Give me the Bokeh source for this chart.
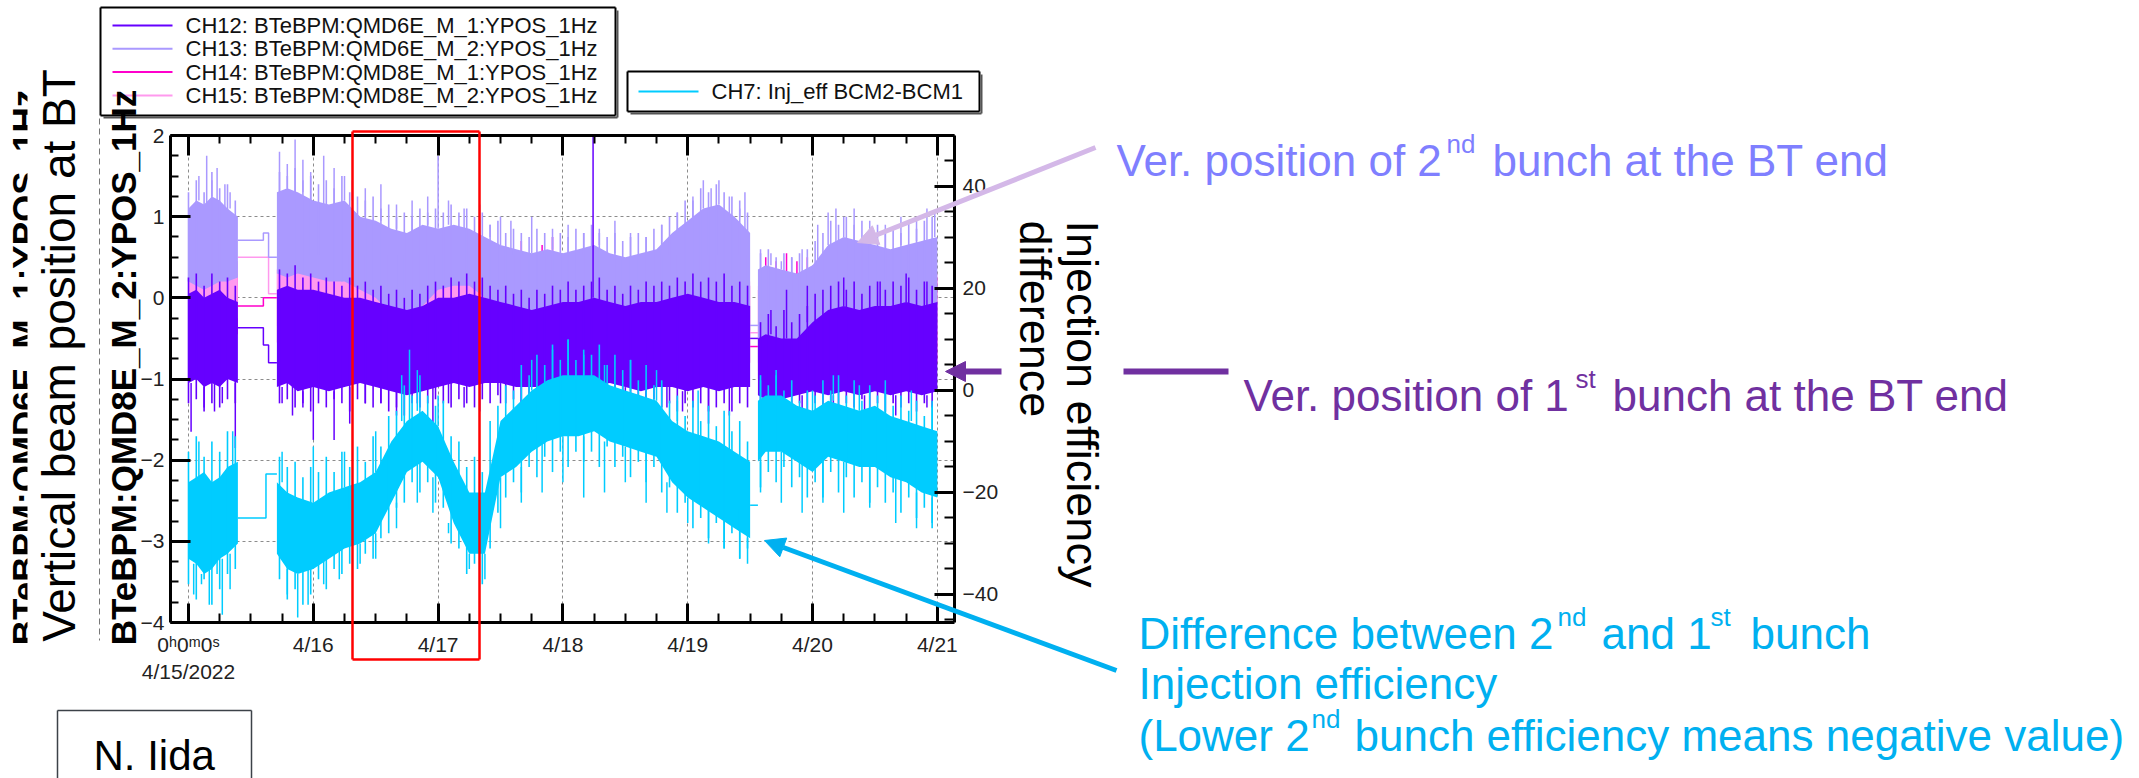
import numpy as np
from bokeh.plotting import figure
from bokeh.models import (Range1d, LinearAxis, SingleIntervalTicker, Grid, Label, Arrow, NormalHead, BoxAnnotation)
from bokeh.embed import file_html
from bokeh.resources import INLINE

# ---------------- data (hours since 2022-04-15 00:00) ----------------
T = [0, 1.5, 3, 4.5, 6, 7.5, 9.5,
     17, 19, 21, 24, 27, 30, 33, 36, 39, 42, 45, 48, 51, 54, 57, 60, 63, 66, 69, 72, 75, 78,
     81, 84, 87, 90, 93, 96, 99, 102, 105, 108,
     109.5, 111, 114, 117, 120, 123, 126, 129, 132, 135, 138, 141, 144]

# CH13 (2nd bunch, QMD6E) core envelope, mm
ch13_hi = [1.1, 1.2, 1.15, 1.25, 1.2, 1.1, 1.0,
           1.3, 1.35, 1.3, 1.2, 1.15, 1.2, 1.0, 0.95, 0.85, 0.8, 0.9, 0.85, 0.9, 0.85, 0.75, 0.65,
           0.6, 0.55, 0.6, 0.55, 0.6, 0.65, 0.55, 0.5, 0.55, 0.6, 0.8, 0.95, 1.1, 1.15, 1.0, 0.8,
           0.35, 0.4, 0.35, 0.3, 0.4, 0.65, 0.75, 0.7, 0.65, 0.6, 0.65, 0.7, 0.75]
ch13_lo = [0.2, 0.15, 0.1, 0.15, 0.2, 0.2, 0.25,
           0.3, 0.25, 0.3, 0.25, 0.2, 0.2, 0.1, 0.0, -0.2, -0.3, -0.1, 0.1, 0.15, 0.15, 0.0, -0.2,
           -0.3, -0.35, -0.3, -0.3, -0.25, -0.2, -0.3, -0.3, -0.25, -0.3, -0.35, -0.3, -0.3, -0.35, -0.35, -0.4,
           -0.8, -0.85, -0.8, -0.75, -0.5, -0.45, -0.4, -0.45, -0.5, -0.5, -0.45, -0.4, -0.4]
# CH12 (1st bunch, QMD6E) core envelope, mm
ch12_hi = [0.05, 0.1, 0.0, 0.05, 0.1, 0.0, -0.05,
           0.1, 0.15, 0.1, 0.1, 0.05, 0.0, 0.0, -0.05, -0.1, -0.15, -0.1, 0.0, 0.0, 0.05, 0.0, -0.05,
           -0.1, -0.15, -0.1, -0.05, -0.05, 0.0, -0.05, -0.1, -0.05, -0.05, 0.0, 0.05, 0.0, -0.05, -0.05, -0.1,
           -0.5, -0.45, -0.5, -0.5, -0.3, -0.15, -0.1, -0.15, -0.1, -0.1, -0.05, -0.1, -0.05]
ch12_lo = [-1.05, -1.0, -1.1, -1.05, -1.1, -1.0, -1.05,
           -1.1, -1.05, -1.15, -1.1, -1.15, -1.1, -1.05, -1.1, -1.15, -1.2, -1.15, -1.1, -1.05, -1.1, -1.05, -1.05,
           -1.1, -1.1, -1.1, -1.05, -1.1, -1.1, -1.05, -1.1, -1.15, -1.1, -1.1, -1.15, -1.1, -1.15, -1.1, -1.1,
           -1.2, -1.25, -1.25, -1.2, -1.15, -1.2, -1.15, -1.2, -1.15, -1.2, -1.15, -1.2, -1.15]
# CH7 injection efficiency difference core envelope, %
ch7_hi = [-18, -17, -16, -18, -17, -15, -14,
          -18, -20, -21, -22, -20, -19, -18, -16, -10, -6, -4, -7, -14, -20, -20, -6,
          -3, 0, 2, 3, 3, 3, 1, 0, -1, -2, -6, -8, -9, -10, -12, -14,
          -2, -1, -1, -3, -4, -2, -3, -4, -3, -5, -6, -7, -8]
ch7_lo = [-33, -34, -36, -35, -33, -32, -30,
          -32, -35, -36, -35, -33, -31, -30, -28, -22, -16, -14, -17, -26, -32, -32, -17,
          -15, -12, -10, -9, -9, -8, -10, -11, -12, -13, -18, -21, -23, -25, -27, -29,
          -14, -12, -12, -14, -16, -13, -14, -15, -15, -17, -18, -20, -21]

# CH14 / CH15 (QMD8E) core envelopes, mm
TP = [0, 4.5, 9.5, 17, 24, 33, 42, 54, 66, 78, 90, 102, 108, 109.5, 120, 132, 144]
ch15_hi = [0.45, 0.5, 0.45, 0.5, 0.45, 0.3, 0.1, 0.3, 0.1, 0.1, 0.15, 0.3, 0.2, 0.15, 0.25, 0.3, 0.3]
ch15_lo = [-0.3, -0.3, -0.25, -0.35, -0.4, -0.5, -0.6, -0.5, -0.6, -0.6, -0.6, -0.6, -0.6, -0.9, -0.7, -0.6, -0.6]
ch14_hi = [0.3, 0.35, 0.3, 0.35, 0.3, 0.2, 0.05, 0.2, 0.05, 0.05, 0.1, 0.2, 0.15, 0.1, 0.2, 0.25, 0.25]
ch14_lo = [-0.5, -0.5, -0.45, -0.55, -0.6, -0.7, -0.8, -0.7, -0.8, -0.8, -0.8, -0.8, -0.8, -1.0, -0.9, -0.8, -0.8]

# fine noise extremes every 1.5 h
TS = [0, 1.5, 3, 4.5, 6, 7.5, 9,
      17.5, 19, 20.5, 22, 23.5, 25, 26.5, 28, 29.5, 31, 32.5, 34, 35.5, 37, 38.5, 40, 41.5, 43, 44.5, 46,
      47.5, 49, 50.5, 52, 53.5, 55, 56.5, 58, 59.5, 61, 62.5, 64, 65.5, 67, 68.5, 70, 71.5, 73, 74.5, 76,
      77.5, 79, 80.5, 82, 83.5, 85, 86.5, 88, 89.5, 91, 92.5, 94, 95.5, 97, 98.5, 100, 101.5, 103, 104.5, 106, 107.5,
      110, 111.5, 113, 114.5, 116, 117.5, 119, 120.5, 122, 123.5, 125, 126.5, 128, 129.5, 131, 132.5, 134,
      135.5, 137, 138.5, 140, 141.5, 143]
ch13_max = [1.3, 1.45, 1.3, 1.55, 1.35, 1.4, 1.2,
            1.55, 1.5, 1.6, 1.45, 1.5, 1.4, 1.45, 1.35, 1.5, 1.3, 1.25, 1.2, 1.25, 1.1, 1.15, 1.0, 1.05, 1.0, 1.1, 1.05,
            1.1, 1.05, 1.15, 1.05, 1.1, 1.0, 1.05, 0.9, 0.95, 0.8, 0.85, 0.8, 0.75, 0.85, 0.8, 0.75, 0.8, 0.75, 0.85, 0.8,
            0.9, 0.8, 0.75, 0.8, 0.7, 0.75, 0.8, 0.75, 0.85, 0.9, 1.0, 1.05, 1.2, 1.2, 1.35, 1.3, 1.4, 1.3, 1.25, 1.2, 1.05,
            0.55, 0.6, 0.5, 0.55, 0.5, 0.55, 0.6, 0.7, 0.8, 0.95, 0.9, 1.0, 0.9, 0.95, 0.85, 0.9, 0.8, 0.85, 0.8, 0.95, 0.85, 0.95, 1.0]
ch12_max = [0.25, 0.3, 0.15, 0.3, 0.2, 0.25, 0.15,
            0.35, 0.3, 0.4, 0.25, 0.3, 0.2, 0.25, 0.2, 0.15, 0.25, 0.15, 0.2, 0.1, 0.15, 0.05, 0.1, 0.0, 0.1, 0.05, 0.15,
            0.2, 0.15, 0.25, 0.2, 0.3, 0.2, 0.25, 0.15, 0.1, 0.15, 0.05, 0.1, 0.0, 0.1, 0.05, 0.15, 0.1, 0.2, 0.1, 0.15,
            0.2, 0.25, 0.1, 0.15, 0.05, 0.15, 0.1, 0.2, 0.15, 0.2, 0.15, 0.25, 0.2, 0.3, 0.2, 0.25, 0.2, 0.3, 0.15, 0.2, 0.15,
            -0.3, -0.2, -0.35, -0.15, -0.3, -0.2, -0.1, 0.05, 0.1, 0.15, 0.2, 0.1, 0.2, 0.05, 0.15, 0.2, 0.1, 0.2, 0.15, 0.25, 0.1, 0.2, 0.15]
ch12_min = [-1.3, -1.25, -1.4, -1.3, -1.35, -1.25, -1.3,
            -1.3, -1.25, -1.35, -1.3, -1.4, -1.3, -1.35, -1.25, -1.3, -1.4, -1.25, -1.3, -1.35, -1.3, -1.4, -1.35, -1.45, -1.3, -1.35, -1.3,
            -1.25, -1.3, -1.35, -1.25, -1.3, -1.35, -1.25, -1.3, -1.2, -1.3, -1.25, -1.35, -1.3, -1.25, -1.35, -1.3, -1.2, -1.3, -1.25, -1.35,
            -1.3, -1.25, -1.35, -1.3, -1.4, -1.3, -1.35, -1.3, -1.25, -1.35, -1.3, -1.4, -1.3, -1.35, -1.3, -1.4, -1.35, -1.3, -1.4, -1.3, -1.35,
            -1.35, -1.4, -1.3, -1.45, -1.35, -1.3, -1.4, -1.3, -1.35, -1.3, -1.4, -1.3, -1.35, -1.25, -1.35, -1.3, -1.4, -1.3, -1.35, -1.3, -1.4, -1.3, -1.35]
ch7_max = [-12, -9, -13, -10, -12, -8, -9,
           -13, -15, -14, -17, -15, -16, -13, -16, -12, -15, -11, -14, -9, -11, -5, -4, 1, -1, 3, -1,
           -3, -2, -9, -10, -15, -13, -16, -6, -3, 1, 0, 5, 3, 7, 5, 9, 6, 10, 6, 8,
           7, 9, 5, 7, 4, 6, 2, 5, 1, 2, -2, -1, -5, -2, -6, -3, -7, -4, -8, -6, -10,
           3, 1, 4, 0, 2, -2, 0, -1, 2, 0, 3, -1, 2, -2, 1, -1, 0, -3, -1, -4, -2, -5, -3]
ch7_min = [-38, -41, -37, -42, -39, -36, -35,
           -37, -41, -39, -42, -40, -37, -39, -35, -36, -34, -35, -32, -33, -29, -28, -23, -22, -18, -20, -18,
           -22, -23, -30, -31, -36, -34, -38, -31, -24, -21, -18, -20, -15, -17, -13, -16, -12, -15, -12, -14,
           -12, -15, -11, -15, -13, -17, -14, -18, -15, -20, -19, -24, -22, -27, -25, -29, -26, -31, -28, -33, -31,
           -19, -16, -18, -15, -19, -17, -21, -18, -21, -16, -20, -17, -21, -18, -22, -19, -22, -20, -24, -21, -25, -23, -27]

# larger single spikes (hour, value)
ch13_spk_t = [2, 3.5, 4.5, 5.5, 7, 8, 17.5, 19, 20.5, 22, 23.5, 26, 28, 30, 31.5, 34, 37, 40, 43, 46,
              48, 50, 53, 56, 58, 60, 62, 66, 70, 73, 76, 79, 82, 85, 88, 91, 94, 97, 99, 100.5,
              102, 104, 106, 107, 110, 112, 114, 116, 118, 121, 123, 124.5, 126, 128, 131, 134, 137, 140, 142, 143.5]
ch13_spk_v = [1.5, 1.75, 1.45, 1.6, 1.4, 1.3, 1.8, 1.65, 1.95, 1.7, 1.55, 1.75, 1.6, 1.5, 1.45, 1.35, 1.4, 1.15, 1.2, 1.25,
              1.75, 1.2, 1.1, 1.15, 0.9, 1.0, 0.95, 1.0, 0.85, 0.9, 0.8, 0.85, 0.95, 0.8, 0.75, 0.9, 1.05, 1.25, 1.45, 1.35,
              1.45, 1.25, 1.1, 1.3, 0.6, 0.55, 0.45, 0.5, 0.6, 0.9, 1.05, 1.1, 1.0, 1.1, 0.95, 0.9, 1.0, 0.95, 1.1, 1.05]
ch12_dn_t = [0.5, 3, 5, 6.5, 9, 18, 20, 22, 24, 28, 31, 34, 37, 40, 44, 47, 50, 53, 56, 60,
             64, 68, 72, 76, 80, 84, 88, 92, 95, 100, 104, 112, 118, 124, 130, 136, 142]
ch12_dn_v = [-1.65, -1.35, -1.4, -1.3, -1.85, -1.3, -1.45, -1.35, -1.75, -1.75, -1.55, -1.3, -1.3, -1.45, -1.3, -1.55, -1.3, -1.35, -1.4, -1.3,
             -1.35, -1.3, -1.25, -1.3, -1.45, -1.4, -1.5, -1.35, -1.4, -1.55, -1.45, -1.35, -1.4, -1.35, -1.4, -1.45, -1.35]
ch12_up_t = [77.8, 112, 115, 119, 126, 133, 138, 142]
ch12_up_v = [2.1, -0.15, 0.1, 0.15, 0.25, 0.2, 0.3, 0.2]
ch7_dn_t = [1, 2.5, 4, 5.5, 6.5, 8, 19, 21, 23, 26, 29, 33, 36, 40, 44, 47, 50, 54, 57, 60,
            64, 68, 72, 76, 80, 84, 88, 92, 96, 100, 103, 106, 107.5, 110, 114, 118, 122, 126, 131, 136, 140, 143]
ch7_dn_v = [-40, -38, -42, -36, -44, -39, -40, -44.5, -42, -38, -37, -34, -33, -27, -22, -24, -28, -35, -37, -27,
            -22, -20, -18, -21, -20, -18, -22, -24, -26, -30, -31, -33, -34, -20, -22, -24, -22, -24, -23, -26, -27, -26]
ch7_up_t = [2, 8.5, 18, 24, 30, 36, 41, 42.5, 44, 48, 61, 66, 70, 73, 76, 80, 85, 90, 94, 98,
            104, 110, 113, 120, 124, 129, 134, 139, 143]
ch7_up_v = [-10, -8, -12, -11, -12, -8, 3, 8, 4, -1, -6, 6, 8, 10, 7, 5, 6, 4, -2, 0,
            -4, 2, 3, 0, 3, 1, 2, 0, -2]
ch14_spk_t = [64, 68, 70, 98, 103, 111, 113, 115, 117, 119]
ch14_spk_v = [0.7, 0.65, 0.75, 0.75, 0.7, 0.5, 0.45, 0.55, 0.45, 0.5]

# flat segments while data were missing
g1_t13 = [9.5, 14.4, 14.4, 15.4, 15.4, 17]; g1_v13 = [0.71, 0.71, 0.8, 0.8, 0.5, 0.5]
g1_t15 = [9.5, 15.4, 15.4, 17];             g1_v15 = [0.5, 0.5, 0.05, 0.05]
g1_t14 = [9.5, 14.4, 14.4, 17];             g1_v14 = [-0.1, -0.1, 0.0, 0.0]
g1_t12 = [9.5, 14.4, 14.4, 15.4, 15.4, 17]; g1_v12 = [-0.37, -0.37, -0.58, -0.58, -0.8, -0.8]
g1_t7 = [9.5, 14.9, 14.9, 17];              g1_v7 = [-25, -25, -16.4, -16.4]
g2_t = [108, 109.5]
g2_v13 = [-0.34, -0.34]; g2_v15 = [-0.43, -0.43]; g2_v14 = [-0.6, -0.6]; g2_v12 = [-0.5, -0.5]; g2_v7 = [-22.5, -22.5]

legend_labels = ["CH12: BTeBPM:QMD6E_M_1:YPOS_1Hz", "CH13: BTeBPM:QMD6E_M_2:YPOS_1Hz",
                 "CH14: BTeBPM:QMD8E_M_1:YPOS_1Hz", "CH15: BTeBPM:QMD8E_M_2:YPOS_1Hz"]
legend7_label = "CH7: Inj_eff BCM2-BCM1"
x_tick_labels = {0: "0\u02b00\u1d500\u02e2\n4/15/2022", 24: "4/16", 48: "4/17", 72: "4/18",
                 96: "4/19", 120: "4/20", 144: "4/21"}

# ---------------- data figure ----------------
C12, C13, C14, C15, C7 = "#6600FF", "#AA99FF", "#FF00CC", "#FF99EE", "#00CCFF"
FONT = "Liberation Sans"
W, H = 2139, 778
FL, FR, FT, FB = 170, 954, 135, 622   # frame edges on the page
p = figure(width=W, height=H, output_backend="svg", toolbar_location=None, title=None,
           x_range=Range1d(-3.46, 147.3), y_range=Range1d(-4, 2),
           x_axis_location=None, y_axis_location=None, min_border=0,
           min_border_left=FL, min_border_right=W - FR, min_border_top=FT, min_border_bottom=H - FB)
p.center = []
p.outline_line_color = None
p.background_fill_color = "white"
p.border_fill_color = "white"
p.extra_y_ranges = {"eff": Range1d(-45.5, 50)}

xt = SingleIntervalTicker(interval=24, num_minor_ticks=4)
yt = SingleIntervalTicker(interval=1, num_minor_ticks=4)
rt = SingleIntervalTicker(interval=20, num_minor_ticks=4)

def style_axis(ax, tin, mtin):
    ax.axis_line_width = 3
    ax.axis_line_color = "black"
    ax.major_tick_in = tin
    ax.major_tick_out = 0
    ax.minor_tick_in = mtin
    ax.minor_tick_out = 0
    ax.major_tick_line_width = 3
    ax.minor_tick_line_width = 2
    ax.major_tick_line_color = "black"
    ax.minor_tick_line_color = "black"
    ax.major_label_text_font = FONT
    ax.major_label_text_font_size = "21px"
    ax.major_label_text_color = "#222222"

p.add_layout(Grid(dimension=0, ticker=xt, grid_line_color="#8c8c8c", grid_line_dash="3 3", grid_line_width=1))
p.add_layout(Grid(dimension=1, ticker=yt, grid_line_color="#8c8c8c", grid_line_dash="3 3", grid_line_width=1))

B = [slice(0, 7), slice(7, 39), slice(39, 52)]
PB = [slice(0, 3), slice(3, 13), slice(13, 17)]

def band(t, lo, hi, color, blocks, **kw):
    for sl in blocks:
        p.varea(x=t[sl], y1=lo[sl], y2=hi[sl], fill_color=color, **kw)

def spikes(base_t, base, st, sv, color, **kw):
    bt = np.array(base_t)
    y0 = [base[int(np.argmin(np.abs(bt - s)))] for s in st]
    p.segment(x0=st, x1=st, y0=y0, y1=sv, line_color=color, line_width=1.5, **kw)

def comb(lo, hi, color, **kw):
    p.segment(x0=TS, x1=TS, y0=lo, y1=hi, line_color=color, line_width=1.6, **kw)

def steps(t, v, color, **kw):
    return p.line(t, v, line_color=color, line_width=1.5, **kw)

# CH14
band(TP, ch14_lo, ch14_hi, C14, PB)
spikes(TP, ch14_hi, ch14_spk_t, ch14_spk_v, C14)
steps(g1_t14, g1_v14, C14); steps(g2_t, g2_v14, C14)
# CH15
band(TP, ch15_lo, ch15_hi, C15, PB)
steps(g1_t15, g1_v15, C15); steps(g2_t, g2_v15, C15)
# CH13
band(T, ch13_lo, ch13_hi, C13, B)
bt_arr = np.array(T)
comb([ch13_lo[int(np.argmin(np.abs(bt_arr - s)))] for s in TS], ch13_max, C13)
spikes(T, ch13_hi, ch13_spk_t, ch13_spk_v, C13)
steps(g1_t13, g1_v13, C13); steps(g2_t, g2_v13, C13)
# CH12
band(T, ch12_lo, ch12_hi, C12, B)
comb(ch12_min, ch12_max, C12)
spikes(T, ch12_lo, ch12_dn_t, ch12_dn_v, C12)
spikes(T, ch12_hi, ch12_up_t, ch12_up_v, C12)
steps(g1_t12, g1_v12, C12); steps(g2_t, g2_v12, C12)
# CH7 (right axis)
band(T, ch7_lo, ch7_hi, C7, B, y_range_name="eff")
comb(ch7_min, ch7_max, C7, y_range_name="eff")
spikes(T, ch7_lo, ch7_dn_t, ch7_dn_v, C7, y_range_name="eff")
spikes(T, ch7_hi, ch7_up_t, ch7_up_v, C7, y_range_name="eff")
steps(g1_t7, g1_v7, C7, y_range_name="eff"); steps(g2_t, g2_v7, C7, y_range_name="eff")

# axes
ax_l = LinearAxis(ticker=yt); style_axis(ax_l, 20, 8); ax_l.major_label_standoff = 6
ax_b = LinearAxis(ticker=xt, major_label_overrides=x_tick_labels); style_axis(ax_b, 19, 9)
ax_b.major_label_standoff = 10
ax_t = LinearAxis(ticker=xt, major_label_overrides={k: "" for k in range(0, 168, 24)}); style_axis(ax_t, 20, 8)
ax_t.major_label_standoff = 0
ax_r = LinearAxis(ticker=rt, y_range_name="eff"); style_axis(ax_r, 20, 10); ax_r.major_label_standoff = 8
p.add_layout(ax_l, "left")
p.add_layout(ax_b, "below")
p.add_layout(ax_t, "above")
p.add_layout(ax_r, "right")

# ---------------- transparent overlay figure (page pixel coordinates) ----------------
ov = figure(width=W, height=H, output_backend="svg", toolbar_location=None, title=None,
            x_range=Range1d(0, W), y_range=Range1d(H, 0),
            x_axis_location=None, y_axis_location=None, min_border=0,
            min_border_left=0, min_border_right=0, min_border_top=0, min_border_bottom=0)
ov.center = []
ov.outline_line_color = None
ov.background_fill_color = None
ov.border_fill_color = None
ov.styles = {"position": "absolute", "top": "0px", "left": "0px"}

def lab(text, x, y, size, color, angle=0.0, align="left", baseline="alphabetic", bold=False, font=FONT):
    ov.add_layout(Label(x=x, y=y, text=text, angle=angle,
                        text_font=font, text_font_size=f"{size}px", text_color=color,
                        text_align=align, text_baseline=baseline,
                        text_font_style="bold" if bold else "normal"))

def seg(x0, y0, x1, y1, color, width, head=None, dash="solid"):
    end = None
    if head:
        end = NormalHead(size=head, fill_color=color, line_color=color, line_width=1)
    ov.add_layout(Arrow(x_start=x0, y_start=y0, x_end=x1, y_end=y1,
                        line_color=color, line_width=width, end=end, line_dash=dash))

def rect(l, t, r, b, color, width):
    seg(l, t, r, t, color, width)
    seg(r, t, r, b, color, width)
    seg(r, b, l, b, color, width)
    seg(l, b, l, t, color, width)

# legends
rect(100, 7, 615, 115, "black", 2)
seg(617, 10, 617, 117, "#555555", 2); seg(103, 117, 617, 117, "#555555", 2)
for i, (lbl, c) in enumerate(zip(legend_labels, [C12, C13, C14, C15])):
    yy = 25 + i * 23.3
    seg(112, yy, 172, yy, c, 2)
    lab(lbl, 185, yy, 22, "#111111", baseline="middle")
rect(627, 71, 979, 111, "black", 2)
seg(981, 74, 981, 113, "#555555", 2); seg(630, 113, 981, 113, "#555555", 2)
seg(638, 91, 698, 91, C7, 2)
lab(legend7_label, 711, 91, 22, "#111111", baseline="middle")

# left-side labels: original axis title partly hidden under a white text box
lab("BTeBPM:QMD6E_M_1:YPOS_1Hz", 24, 367, 35, "black", angle=np.pi / 2, align="center", baseline="middle", bold=True)
ov.add_layout(BoxAnnotation(left=27, right=98, top=60, bottom=660, fill_color="white", fill_alpha=1,
                            line_color=None))
lab("Vertical beam position at BT", 58, 355, 46, "black", angle=np.pi / 2, align="center", baseline="middle")
seg(99, 118, 99, 640, "#777777", 1, dash="6 4")
lab("BTeBPM:QMD8E_M_2:YPOS_1Hz", 123, 367, 35, "black", angle=np.pi / 2, align="center", baseline="middle", bold=True)

# right-side axis label
lab("Injection efficiency", 1082, 220, 45, "black", angle=-np.pi / 2, align="left", baseline="middle")
lab("difference", 1035, 220, 45, "black", angle=-np.pi / 2, align="left", baseline="middle")

# red highlight box
rect(352, 131, 479, 659, "#FF0000", 2.5)

# arrows
LAV_T, LAV_A, PUR, CYA = "#7F7FFF", "#D4B8E8", "#7030A0", "#00B0F0"
seg(1095, 147, 857, 242, LAV_A, 5, head=20)
seg(1001, 371, 945, 371, PUR, 6, head=20)
seg(1123, 371, 1228, 371, PUR, 6)
seg(1116, 670, 764, 540, CYA, 5, head=20)

# annotation texts
lab("Ver. position of 2", 1116, 160, 44, LAV_T)
lab("nd", 1446, 143, 26, LAV_T)
lab("bunch at the BT end", 1492, 160, 44, LAV_T)

lab("Ver. position of 1", 1243, 395, 44, PUR)
lab("st", 1575, 378, 26, PUR)
lab("bunch at the BT end", 1612, 395, 44, PUR)

lab("Difference between 2", 1138, 633, 44, CYA)
lab("nd", 1557, 616, 26, CYA)
lab("and 1", 1601, 633, 44, CYA)
lab("st", 1710, 616, 26, CYA)
lab("bunch", 1750, 633, 44, CYA)
lab("Injection efficiency", 1138, 683, 44, CYA)
lab("(Lower 2", 1138, 735, 44, CYA)
lab("nd", 1311, 718, 26, CYA)
lab("bunch efficiency means negative value)", 1354, 735, 44, CYA)

# author box
seg(57, 710, 251, 710, "#3c4248", 1.5)
seg(57, 710, 57, 780, "#3c4248", 1.5)
seg(251, 710, 251, 780, "#3c4248", 1.5)
lab("N. Iida", 93, 755, 42, "black")

open("out.html", "w").write(file_html([p, ov], INLINE))
